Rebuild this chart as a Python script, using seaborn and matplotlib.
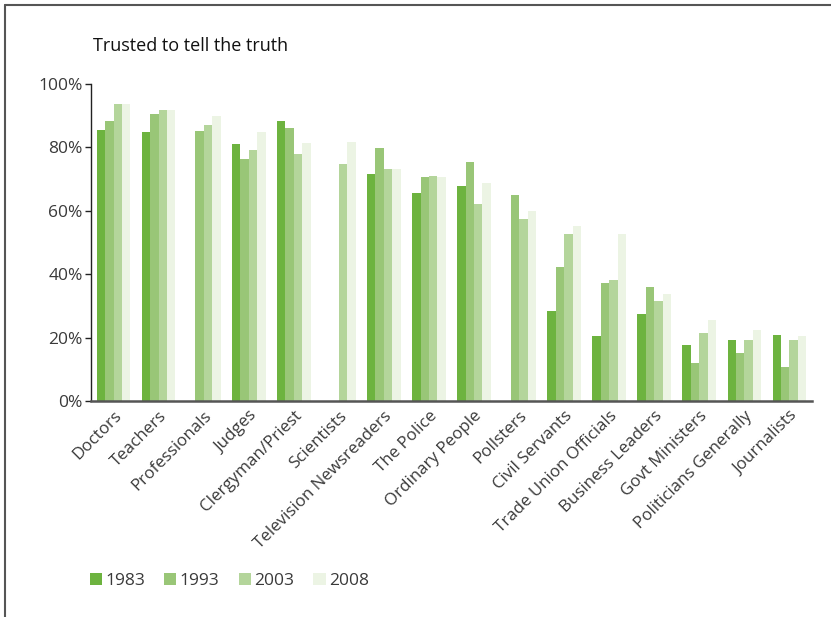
import matplotlib
matplotlib.use("Agg")
import matplotlib.pyplot as plt
from matplotlib.lines import Line2D
from matplotlib.patches import Patch
import numpy as np
import pandas as pd
import seaborn as sns

categories = ["Doctors", "Teachers", "Professionals", "Judges", "Clergyman/Priest",
              "Scientists", "Television Newsreaders", "The Police", "Ordinary People",
              "Pollsters", "Civil Servants", "Trade Union Officials", "Business Leaders",
              "Govt Ministers", "Politicians Generally", "Journalists"]
years = ["1983", "1993", "2003", "2008"]
trust_1983 = [85.5, 84.9, np.nan, 81.1, 88.3, np.nan, 71.6, 65.6, 67.9, np.nan, 28.5, 20.4, 27.6, 17.8, 19.4, 20.7]
trust_1993 = [88.3, 90.6, 85.2, 76.4, 86.2, np.nan, 79.9, 70.6, 75.5, 65.0, 42.4, 37.1, 36.1, 11.9, 15.0, 10.6]
trust_2003 = [93.6, 91.8, 87.1, 79.2, 78.0, 74.8, 73.3, 70.9, 62.3, 57.5, 52.8, 38.3, 31.7, 21.6, 19.4, 19.4]
trust_2008 = [93.6, 91.8, 89.9, 84.9, 81.4, 81.7, 73.3, 70.6, 68.8, 60.0, 55.3, 52.8, 33.6, 25.7, 22.3, 20.4]
colors = ["#6db33f", "#99c677", "#b4d59b", "#ecf4e4"]

df = pd.DataFrame({
    "category": categories * 4,
    "year": [y for y in years for _ in categories],
    "value": trust_1983 + trust_1993 + trust_2003 + trust_2008,
}).dropna()

sns.set_style("white")
plt.rcParams["font.family"] = ["Open Sans", "DejaVu Sans"]

fig = plt.figure(figsize=(8.31, 6.17), dpi=100)
ax = fig.add_axes([91 / 831, 1 - 401 / 617, 721 / 831, 317 / 617])

sns.barplot(data=df, x="category", y="value", hue="year", order=categories,
            hue_order=years, palette=colors, saturation=1, width=0.75,
            errorbar=None, linewidth=0, ax=ax, legend=False)

ax.set_xlim(-0.5, len(categories) - 0.5)
ax.set_ylim(0, 100)
ax.set_yticks([0, 20, 40, 60, 80, 100])
ax.set_yticklabels([f"{v}%" for v in [0, 20, 40, 60, 80, 100]])
ax.set_xlabel("")
ax.set_ylabel("")

for s in ["top", "right"]:
    ax.spines[s].set_visible(False)
ax.spines["left"].set_color("#222222")
ax.spines["left"].set_linewidth(1.0)
ax.spines["bottom"].set_color("#555555")
ax.spines["bottom"].set_linewidth(1.8)

ax.tick_params(axis="y", direction="out", length=4, width=1, color="#222222",
               labelsize=12.5, labelcolor="#3a3a3a", pad=2, left=True)
ax.tick_params(axis="x", length=0, labelsize=12.2, labelcolor="#3a3a3a", pad=5)
plt.setp(ax.get_xticklabels(), rotation=45, ha="right", rotation_mode="anchor")

fig.text(93 / 831, 1 - 46 / 617, "Trusted to tell the truth", fontsize=13,
         color="#111111", va="center", ha="left")

handles = [Patch(facecolor=c, edgecolor="none", label=y) for c, y in zip(colors, years)]
fig.legend(handles=handles, loc="center left", bbox_to_anchor=(74 / 831, 1 - 581 / 617),
           ncol=4, frameon=False, fontsize=12.5, handlelength=0.7, handleheight=0.7,
           handletextpad=0.2, columnspacing=1.1, labelcolor="#3a3a3a")

# figure frame on the top and left edges
fig.add_artist(Line2D([5 / 831, 1], [1 - 5 / 617, 1 - 5 / 617], color="#555555", lw=1.5))
fig.add_artist(Line2D([5 / 831, 5 / 831], [0, 1 - 5 / 617], color="#555555", lw=1.5))

fig.savefig("out.png", dpi=100)
